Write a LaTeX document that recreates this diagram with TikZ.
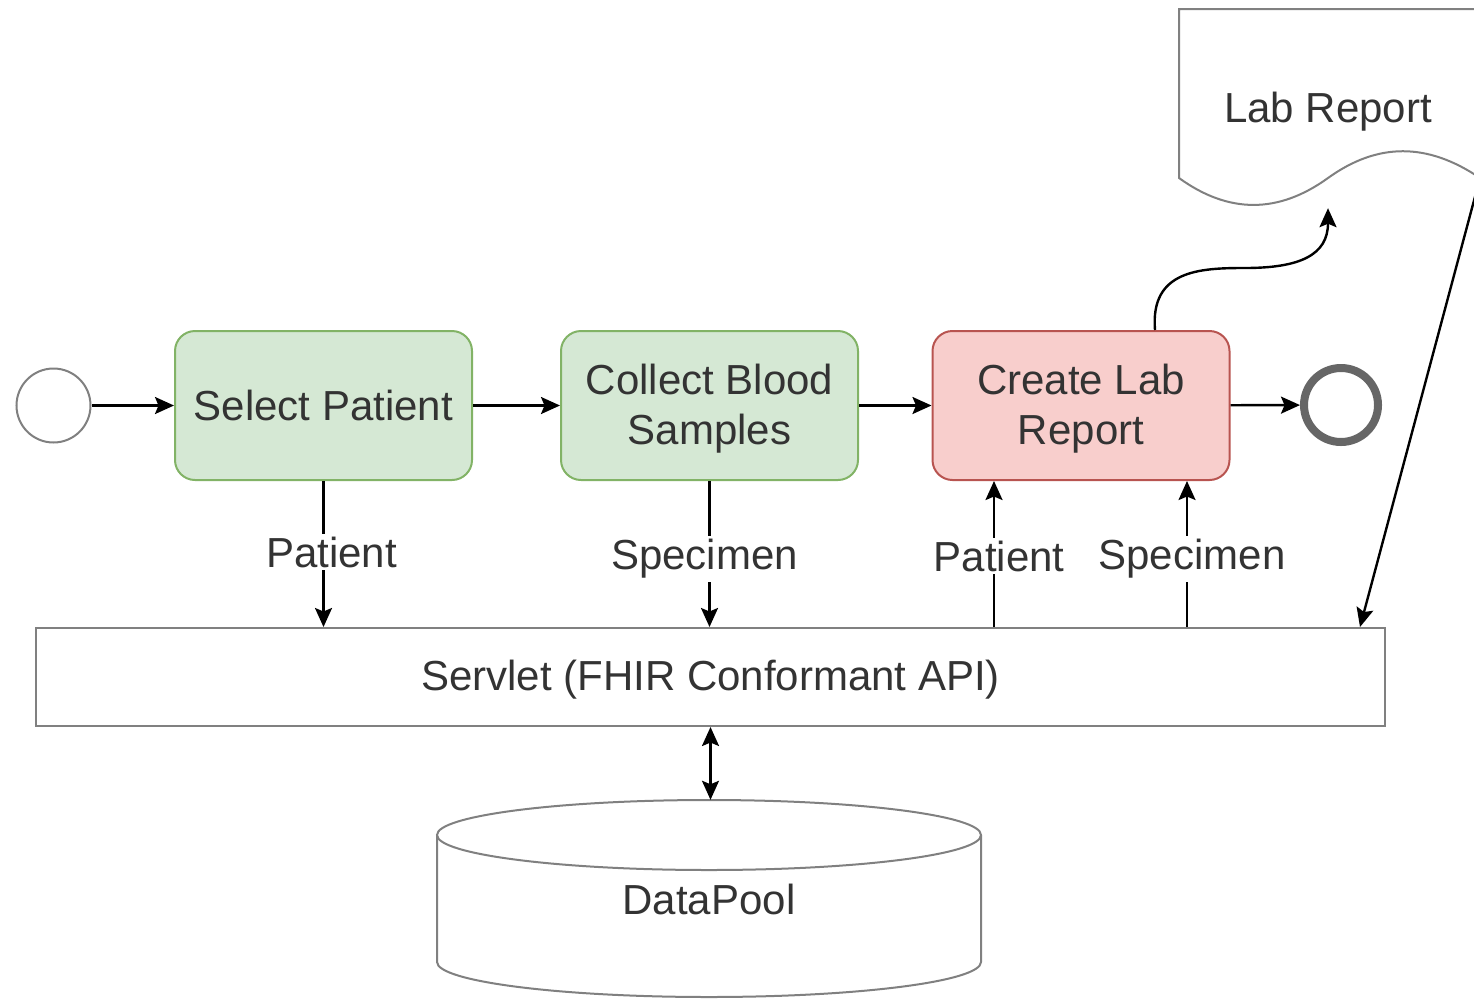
\documentclass[tikz,border=0pt]{standalone}
\usepackage{fontspec}
\setmainfont{Liberation Sans}
\usetikzlibrary{arrows.meta}
\definecolor{txt}{HTML}{333333}
\definecolor{gfill}{HTML}{D5E8D4}
\definecolor{gline}{HTML}{82B366}
\definecolor{rfill}{HTML}{F8CECC}
\definecolor{rline}{HTML}{B85450}
\definecolor{shline}{HTML}{808080}
\definecolor{endline}{HTML}{666666}
\begin{document}
\begin{tikzpicture}[x=1pt,y=-1pt,
  every node/.style={text=txt, font=\fontsize{42}{50}\selectfont},
  task/.style={rectangle, rounded corners=20pt, line width=2pt, minimum width=297pt, minimum height=149pt, align=center},
  conn/.style={draw=black, line width=2.4pt, -{Stealth[length=19pt,width=17pt,inset=3.5pt]}},
  both/.style={{Stealth[length=19pt,width=17pt,inset=3.5pt]}-{Stealth[length=19pt,width=17pt,inset=3.5pt]}},
  lbl/.style={fill=white, inner sep=3pt},
  shape line/.style={draw=shline, line width=2pt}]
\useasboundingbox (0,0) rectangle (1474,999);
\clip (0,0) rectangle (1474,999);

% events
\node[circle, shape line, fill=white, minimum size=74pt, inner sep=0pt] (start) at (53.5,405.5) {};
\node[circle, draw=endline, line width=8pt, fill=white, minimum size=74pt, inner sep=0pt] (end) at (1341,405) {};

% tasks
\node[task, draw=gline, fill=gfill] (sel) at (323.5,405.5) {Select Patient};
\node[task, draw=gline, fill=gfill] (col) at (709.5,405.5) {};
\node at ([yshift=-3pt]col.center) [align=center] {Collect Blood\\Samples};
\node[task, draw=rline, fill=rfill] (cre) at (1081,405.5) {};
\node at ([yshift=-3pt]cre.center) [align=center] {Create Lab\\Report};

% servlet
\node[rectangle, shape line, fill=white, minimum width=1349pt, minimum height=98pt] (api) at (710.5,677) {};
\node at ([yshift=-3pt]api.center) {Servlet (FHIR Conformant API)};

% data pool cylinder
\node[minimum width=544pt, minimum height=197pt] (db) at (709,898.5) {};
\draw[shape line, fill=white] (437,835) -- (437,962) arc[start angle=180, end angle=0, x radius=272, y radius=35] -- (981,835);
\draw[shape line, fill=white] (709,835) ellipse[x radius=272, y radius=35];
\node at (709,899) {DataPool};

% lab report document
\draw[shape line, fill=white] (1179,9) -- (1480,9) -- (1480,178)
  .. controls (1427.3,142.3) and (1377.7,142.3) .. (1328,178)
  .. controls (1278.3,213.9) and (1228.7,213.9) .. (1179,178) -- cycle;
\node[minimum width=298pt, minimum height=199pt] (doc) at (1328,108.5) {};
\node at ([yshift=-3pt]doc.center) {Lab Report};
\coordinate (docR) at (1480,178);

% sequence flow
\draw[conn] (start) -- (sel);
\draw[conn] (sel) -- (col);
\draw[conn] (col) -- (cre);
\draw[conn] (cre) -- (end);

% data flow to and from the servlet
\draw[conn] (sel.south) -- (sel.south |- api.north) node[lbl, midway, xshift=8pt, yshift=2pt] {Patient};
\draw[conn] (col.south) -- (col.south |- api.north) node[lbl, midway, xshift=-5pt, yshift=-5pt] {Specimen};
\draw[conn] (994,0 |- api.north) -- (994,0 |- cre.south) node[lbl, midway, xshift=5pt, yshift=-2pt] {Patient};
\draw[conn] (1187,0 |- api.north) -- (1187,0 |- cre.south) node[lbl, midway, xshift=5pt, yshift=-5pt] {Specimen};
\draw[conn, both] (api.south) -- (api.south |- db.north);

% report output
\draw[conn] (1155,0 |- cre.north) .. controls (1150,270) and (1200,268) .. (1245,268)
  .. controls (1300,268) and (1328,255) .. (doc.south);
\draw[conn] (docR) -- (1360,0 |- api.north);
\end{tikzpicture}
\end{document}
